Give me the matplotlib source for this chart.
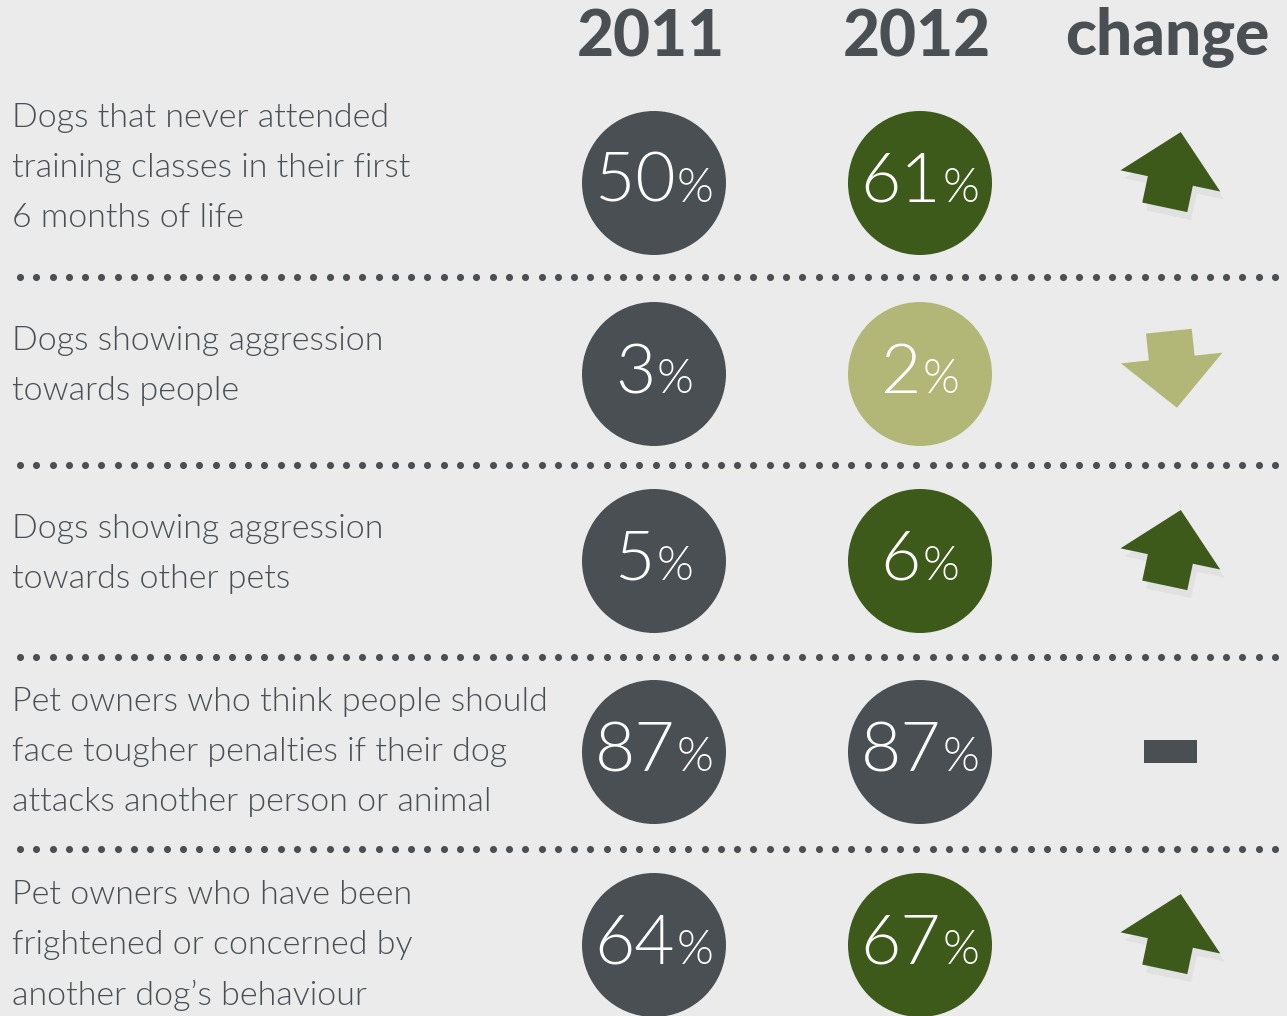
import numpy as np
import matplotlib.pyplot as plt
from matplotlib.patches import Circle, Polygon, Rectangle
from matplotlib.offsetbox import TextArea, HPacker, AnnotationBbox

# Data
labels = [
    ["Dogs that never attended", "training classes in their first", "6 months of life"],
    ["Dogs showing aggression", "towards people"],
    ["Dogs showing aggression", "towards other pets"],
    ["Pet owners who think people should", "face tougher penalties if their dog",
     "attacks another person or animal"],
    ["Pet owners who have been", "frightened or concerned by", "another dog\u2019s behaviour"],
]
values_2011 = [50, 3, 5, 87, 64]
values_2012 = [61, 2, 6, 87, 67]
headers = ["2011", "2012", "change"]

# Layout (pixels)
W, H = 1287, 1016
row_y = [183, 374, 561, 752, 945]
text_top = [118, 341, 529, 702, 895]
sep_y = [277, 465, 657, 849]
col_x = [654, 920, 1170]
radius = 72

GREY = "#4a4f54"
GREEN = "#3d5a1a"
OLIVE = "#b2b777"
BG = "#ebebeb"
TEXT_FONT = ["Lato", "DejaVu Sans"]

fig = plt.figure(figsize=(W / 100, H / 100), dpi=100)
fig.patch.set_facecolor(BG)
ax = fig.add_axes([0, 0, 1, 1])
ax.set_xlim(0, W)
ax.set_ylim(H, 0)
ax.set_aspect("equal")
ax.axis("off")

# Headers
for x, h in zip(col_x, headers):
    ax.text(x - 3, 38, h, ha="center", va="center", fontsize=46,
            fontweight=900, family=TEXT_FONT, color=GREY)

# Separators
dot_x = np.arange(20, W + 10, 16.3)
for y in sep_y:
    ax.scatter(dot_x, np.full_like(dot_x, y), s=26, color=GREY, lw=0, zorder=2)

# Arrow shape (local, y down)
arrow = np.array([[0, -47], [51, 3], [23, 3], [23, 30], [-23, 30], [-23, 3], [-51, 3]])


def rotated(shape, deg, cx, cy):
    a = np.radians(deg)
    c, s = np.cos(a), np.sin(a)
    x = shape[:, 0] * c - shape[:, 1] * s
    y = shape[:, 0] * s + shape[:, 1] * c
    return np.column_stack([x + cx, y + cy])


def pct_label(x, y, v):
    num = TextArea(str(v), textprops=dict(fontsize=50, color="white",
                                          family=TEXT_FONT, fontweight=300))
    pc = TextArea("%", textprops=dict(fontsize=34, color="white",
                                      family=TEXT_FONT, fontweight=300))
    box = HPacker(children=[num, pc], align="baseline", pad=0, sep=1)
    ab = AnnotationBbox(box, (x, y), frameon=False, box_alignment=(0.5, 0.5),
                        pad=0, zorder=5)
    ax.add_artist(ab)


for i, (lines, v1, v2) in enumerate(zip(labels, values_2011, values_2012)):
    y = row_y[i]
    for j, line in enumerate(lines):
        ax.text(12, text_top[i] + 50 * j, line, ha="left", va="center",
                fontsize=24.5, fontweight=300, family=TEXT_FONT, color=GREY)

    d = np.sign(v2 - v1)
    c2 = GREEN if d > 0 else (OLIVE if d < 0 else GREY)
    ax.add_patch(Circle((col_x[0], y), radius, color=GREY, lw=0, zorder=3))
    ax.add_patch(Circle((col_x[1], y), radius, color=c2, lw=0, zorder=3))
    pct_label(col_x[0], y, v1)
    pct_label(col_x[1], y, v2)

    if d > 0:
        pts = rotated(arrow, 12, col_x[2] + 1, y - 5)
        ax.add_patch(Polygon(pts + [4, 8], closed=True, color="#000000",
                             alpha=0.04, lw=0, zorder=3))
        ax.add_patch(Polygon(pts, closed=True, color=GREEN, lw=0, zorder=4))
    elif d < 0:
        pts = rotated(arrow, 174, col_x[2] + 2, y - 13)
        ax.add_patch(Polygon(pts, closed=True, color=OLIVE, lw=0, zorder=4))
    else:
        ax.add_patch(Rectangle((col_x[2] - 26, y - 12), 53, 23, color=GREY,
                               lw=0, zorder=4))

fig.savefig("out.png", dpi=100, facecolor=BG)
